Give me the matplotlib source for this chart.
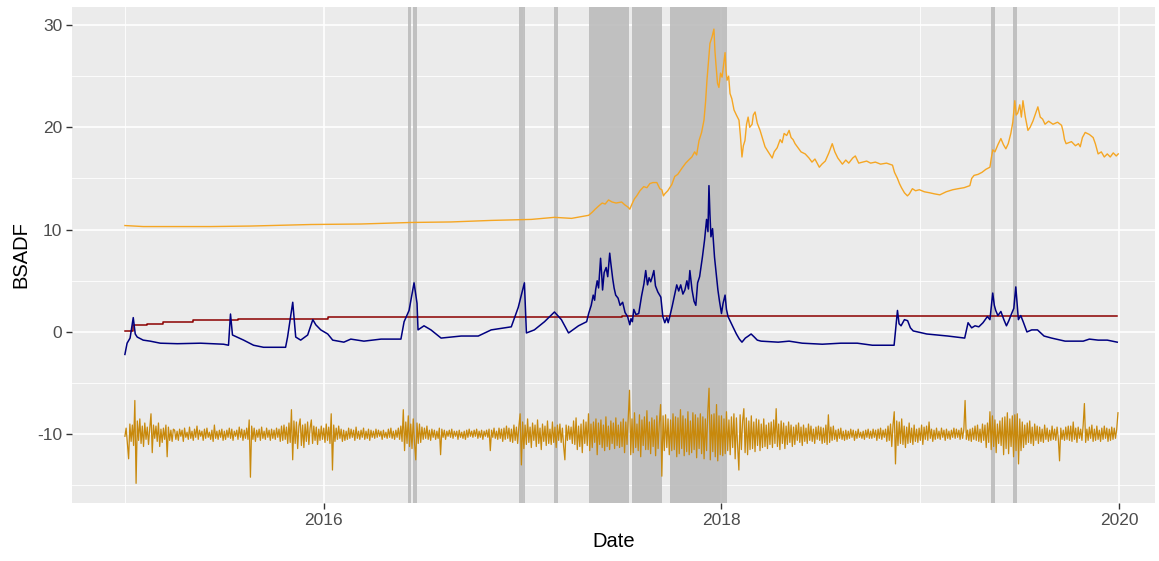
import numpy as np
import matplotlib
matplotlib.use("Agg")
import matplotlib.pyplot as plt
from matplotlib.ticker import FixedLocator

plt.rcParams['font.family'] = ['Liberation Sans', 'DejaVu Sans']

# Scaled price (orange): decimal year, value
price_t = [2015.000, 2015.092, 2015.264, 2015.430, 2015.632, 2015.935, 2016.187,
           2016.439, 2016.640, 2016.842, 2017.044, 2017.160, 2017.246, 2017.332,
           2017.350, 2017.365, 2017.382, 2017.400, 2017.415, 2017.432, 2017.450,
           2017.470, 2017.498, 2017.515, 2017.530, 2017.539, 2017.550, 2017.562,
           2017.574, 2017.590, 2017.609, 2017.625, 2017.640, 2017.655, 2017.675,
           2017.690, 2017.700, 2017.708, 2017.715, 2017.730, 2017.750, 2017.765,
           2017.780, 2017.801, 2017.820, 2017.835, 2017.851, 2017.865, 2017.875,
           2017.887, 2017.900, 2017.912, 2017.920, 2017.927, 2017.935, 2017.942,
           2017.952, 2017.962, 2017.967, 2017.972, 2017.980, 2017.987, 2017.995,
           2018.003, 2018.010, 2018.018, 2018.023, 2018.028, 2018.036, 2018.043,
           2018.052, 2018.063, 2018.075, 2018.088, 2018.095, 2018.103, 2018.110,
           2018.118, 2018.126, 2018.134, 2018.142, 2018.154, 2018.160, 2018.169,
           2018.180, 2018.194, 2018.205, 2018.219, 2018.235, 2018.255, 2018.265,
           2018.280, 2018.295, 2018.305, 2018.315, 2018.328, 2018.340, 2018.350,
           2018.360, 2018.370, 2018.385, 2018.400, 2018.421, 2018.440, 2018.455,
           2018.470, 2018.492, 2018.505, 2018.522, 2018.540, 2018.557, 2018.570,
           2018.585, 2018.608, 2018.625, 2018.640, 2018.660, 2018.673, 2018.690,
           2018.709, 2018.730, 2018.750, 2018.774, 2018.800, 2018.830, 2018.860,
           2018.870, 2018.885, 2018.895, 2018.905, 2018.920, 2018.935, 2018.945,
           2018.960, 2018.976, 2018.995, 2019.020, 2019.047, 2019.070, 2019.098,
           2019.130, 2019.163, 2019.190, 2019.220, 2019.249, 2019.258, 2019.270,
           2019.290, 2019.310, 2019.330, 2019.350, 2019.357, 2019.364, 2019.375,
           2019.390, 2019.405, 2019.418, 2019.430, 2019.442, 2019.455, 2019.465,
           2019.475, 2019.482, 2019.490, 2019.500, 2019.508, 2019.516, 2019.528,
           2019.541, 2019.552, 2019.566, 2019.580, 2019.591, 2019.603, 2019.615,
           2019.627, 2019.645, 2019.667, 2019.690, 2019.710, 2019.718, 2019.725,
           2019.733, 2019.760, 2019.780, 2019.795, 2019.804, 2019.815, 2019.829,
           2019.850, 2019.869, 2019.880, 2019.894, 2019.910, 2019.925, 2019.940,
           2019.955, 2019.970, 2019.985, 2019.995]
price_v = [10.4, 10.3, 10.3, 10.3, 10.35, 10.5, 10.55,
           10.7, 10.75, 10.9, 11.0, 11.2, 11.1, 11.4,
           11.7, 12.0, 12.3, 12.6, 12.5, 12.9, 12.7,
           12.6, 12.7, 12.4, 12.2, 12.0, 12.5, 13.0,
           13.3, 13.8, 14.2, 14.1, 14.5, 14.6, 14.6,
           14.0, 13.9, 13.3, 13.5, 13.8, 14.4, 15.2,
           15.4, 16.0, 16.5, 16.8, 17.1, 17.6, 17.3,
           18.7, 19.5, 20.7, 22.5, 24.6, 26.5, 28.2,
           28.8, 29.6, 27.5, 26.2, 24.3, 23.9, 25.3,
           24.9, 26.0, 27.3, 25.5, 24.6, 25.0, 23.3,
           22.8, 21.7, 21.2, 20.7, 19.2, 17.1, 18.2,
           18.7, 20.3, 21.0, 20.0, 20.3, 21.2, 21.5,
           20.4, 19.7, 19.0, 18.1, 17.6, 17.0, 17.6,
           18.0, 18.8, 18.5, 19.4, 19.2, 19.7, 19.0,
           18.8, 18.4, 18.0, 17.6, 17.4, 17.0, 16.6,
           16.9, 16.1, 16.4, 16.7, 17.5, 18.4, 17.6,
           17.0, 16.4, 16.8, 16.5, 17.0, 17.2, 16.5,
           16.6, 16.7, 16.5, 16.6, 16.4, 16.5, 16.3,
           15.6, 15.0, 14.5, 14.1, 13.6, 13.3, 13.5,
           14.0, 13.8, 13.9, 13.7, 13.6, 13.5, 13.4,
           13.7, 13.9, 14.0, 14.1, 14.3, 15.0, 15.3,
           15.4, 15.6, 15.9, 16.1, 17.0, 17.8, 17.6,
           18.3, 18.9, 18.3, 17.9, 18.4, 19.4, 20.5,
           22.6, 21.2, 21.4, 22.2, 21.0, 22.6, 21.0,
           19.7, 20.0, 20.6, 21.4, 22.0, 21.0, 20.8,
           20.3, 20.6, 20.3, 20.5, 20.2, 19.6, 18.8,
           18.4, 18.6, 18.2, 18.4, 18.1, 19.0, 19.5,
           19.3, 19.0, 18.4, 17.4, 17.6, 17.1, 17.4,
           17.1, 17.5, 17.2, 17.4]

# BSADF statistic (navy)
bsadf_t = [2015.000, 2015.011, 2015.026, 2015.042, 2015.052, 2015.062, 2015.092,
           2015.127, 2015.178, 2015.264, 2015.380, 2015.496, 2015.521, 2015.531,
           2015.541, 2015.597, 2015.647, 2015.697, 2015.808, 2015.818, 2015.844,
           2015.859, 2015.884, 2015.919, 2015.945, 2015.960, 2015.985, 2016.020,
           2016.045, 2016.101, 2016.136, 2016.202, 2016.288, 2016.388, 2016.404,
           2016.429, 2016.454, 2016.469, 2016.474, 2016.504, 2016.539, 2016.590,
           2016.691, 2016.777, 2016.842, 2016.943, 2016.978, 2017.009, 2017.019,
           2017.059, 2017.110, 2017.160, 2017.195, 2017.231, 2017.281, 2017.322,
           2017.332, 2017.345, 2017.355, 2017.362, 2017.367, 2017.375, 2017.382,
           2017.392, 2017.398, 2017.402, 2017.410, 2017.420, 2017.428, 2017.438,
           2017.443, 2017.453, 2017.460, 2017.468, 2017.480, 2017.490, 2017.503,
           2017.515, 2017.528, 2017.539, 2017.545, 2017.552, 2017.559, 2017.570,
           2017.584, 2017.598, 2017.610, 2017.619, 2017.628, 2017.636, 2017.644,
           2017.652, 2017.660, 2017.668, 2017.680, 2017.695, 2017.705, 2017.715,
           2017.725, 2017.732, 2017.740, 2017.752, 2017.765, 2017.775, 2017.785,
           2017.795, 2017.806, 2017.816, 2017.826, 2017.834, 2017.841, 2017.852,
           2017.862, 2017.871, 2017.880, 2017.890, 2017.904, 2017.915, 2017.925,
           2017.932, 2017.937, 2017.942, 2017.947, 2017.955, 2017.960, 2017.965,
           2017.972, 2017.982, 2017.990, 2018.000, 2018.008, 2018.018, 2018.025,
           2018.033, 2018.045, 2018.060, 2018.075, 2018.090, 2018.103, 2018.120,
           2018.135, 2018.149, 2018.165, 2018.180, 2018.199, 2018.285, 2018.340,
           2018.406, 2018.507, 2018.600, 2018.683, 2018.759, 2018.868, 2018.885,
           2018.893, 2018.903, 2018.920, 2018.936, 2018.950, 2018.964, 2019.032,
           2019.138, 2019.223, 2019.240, 2019.258, 2019.275, 2019.294, 2019.315,
           2019.337, 2019.350, 2019.364, 2019.372, 2019.379, 2019.390, 2019.405,
           2019.420, 2019.433, 2019.445, 2019.459, 2019.470, 2019.480, 2019.493,
           2019.505, 2019.519, 2019.536, 2019.560, 2019.589, 2019.622, 2019.660,
           2019.728, 2019.819, 2019.850, 2019.894, 2019.940, 2019.990]
bsadf_v = [-2.2, -1.1, -0.6, 1.4, -0.2, -0.5, -0.8,
           -0.9, -1.1, -1.15, -1.1, -1.2, -1.3, 1.75,
           -0.3, -0.8, -1.3, -1.5, -1.5, -0.5, 2.9,
           -0.5, -0.8, -0.3, 1.2, 0.7, 0.2, -0.2,
           -0.8, -1.0, -0.7, -0.9, -0.7, -0.7, 1.0,
           2.1, 4.8, 2.8, 0.2, 0.6, 0.2, -0.6,
           -0.4, -0.4, 0.2, 0.5, 2.4, 4.8, -0.1,
           0.2, 1.0, 1.95, 1.2, -0.1, 0.6, 1.0,
           1.8, 2.6, 3.6, 3.1, 4.1, 5.0, 4.3,
           7.2, 5.5, 4.1, 5.8, 6.3, 5.4, 7.7,
           6.8, 5.2, 4.3, 3.6, 3.3, 2.6, 2.9,
           1.9, 1.5, 0.7, 1.3, 1.0, 2.2, 1.7,
           1.8, 3.5, 4.7, 6.0, 4.6, 5.3, 4.9,
           5.4, 6.0, 4.5, 3.9, 3.4, 1.5, 0.9,
           1.4, 0.9, 1.5, 2.5, 3.7, 4.6, 4.0,
           4.6, 3.7, 4.1, 5.0, 4.2, 6.0, 4.1,
           3.0, 2.6, 4.8, 5.4, 7.3, 9.0, 11.0,
           9.8, 14.3, 11.5, 9.3, 10.1, 8.7, 7.3,
           6.0, 4.1, 3.0, 1.8, 2.8, 3.6, 2.2,
           1.5, 1.0, 0.4, -0.2, -0.7, -1.0, -0.6,
           -0.4, -0.2, -0.5, -0.8, -0.9, -1.0, -0.9,
           -1.1, -1.2, -1.1, -1.1, -1.3, -1.3, 2.1,
           0.8, 0.6, 1.2, 1.1, 0.4, 0.1, -0.2,
           -0.4, -0.6, 0.9, 0.4, 0.6, 0.5, 0.9,
           1.5, 1.2, 3.8, 2.6, 2.1, 1.6, 2.0,
           1.2, 0.6, 1.1, 1.8, 2.3, 4.4, 1.2,
           1.6, 0.9, 0.0, 0.2, 0.2, -0.4, -0.6,
           -0.9, -0.9, -0.7, -0.8, -0.8, -1.0]

# critical value sequence (dark red)
cv_t = [2015.000, 2015.040, 2015.110, 2015.190, 2015.340, 2015.570, 2016.020,
        2016.500, 2017.500, 2018.500, 2019.990]
cv_v = [0.1, 0.7, 0.8, 1.0, 1.15, 1.3, 1.45, 1.5, 1.52, 1.55, 1.55]

# returns sampled every 1/160 year from 2015.0 (one row per quarter),
# deviation around the -10 offset used in the chart
ret_dev = [
    -0.2, 0.6, -0.9, -2.4, 1.0, -0.7, 0.9, -1.1, 3.3, -4.8, 1.3, -0.6, 1.5, -0.9, 0.8, -1.2, 1.1, -0.5, 0.7, -1.0,
    0.6, 2.0, -1.8, 0.9, -0.4, 0.8, -0.7, 1.1, -1.2, 0.5, -0.8, 0.6, -0.5, 0.9, -2.2, 0.7, -0.6, 0.4, -0.7, 0.5,
    0.4, -0.5, 0.3, -0.6, 0.5, -0.2, 0.4, -0.7, 0.6, -0.3, 0.2, -0.5, 0.7, -0.4, 0.3, -0.6, 0.5, -0.3, 0.8, -0.5,
    0.4, -0.2, 0.3, -0.6, 0.5, -0.4, 0.6, -0.3, 0.2, -0.5, 0.4, -0.7, 0.9, -0.4, 0.3, -0.5, 0.4, -0.3, 0.5, -0.6,
    0.3, -0.5, 0.4, -0.3, 0.6, -0.4, 0.5, -0.6, 0.3, -0.2, 0.4, -0.5, 0.7, -0.3, 0.5, -0.6, 0.4, -0.4, 0.6, -0.5,
    1.4, -4.2, 0.8, -0.5, 0.6, -0.7, 0.4, -0.3, 0.5, -0.6, 0.7, -0.4, 0.3, -0.5, 0.6, -0.3, 0.4, -0.6, 0.5, -0.4,
    0.4, -0.5, 0.6, -0.3, 0.5, -0.7, 0.8, -0.6, 0.9, -0.5, 0.7, -0.9, 1.1, -0.8, 2.4, -2.5, 1.3, -0.9, 1.2, -1.4,
    0.8, 1.5, -1.1, 0.9, -1.3, 1.0, -0.7, 1.2, -1.0, 0.6, 1.4, -0.9, 0.8, -0.6, 0.7, -1.0, 0.5, -0.6, 0.8, -0.5,
    0.6, -0.8, 1.0, -0.6, 0.7, -0.9, 2.0, -3.5, 0.9, -0.7, 0.6, -0.5, 0.8, -0.4, 0.5, -0.7, 0.4, -0.6, 0.3, -0.5,
    0.6, -0.4, 0.5, -0.3, 0.4, -0.6, 0.7, -0.4, 0.3, -0.5, 0.4, -0.3, 0.6, -0.5, 0.3, -0.4, 0.5, -0.6, 0.4, -0.3,
    0.3, -0.4, 0.5, -0.3, 0.4, -0.2, 0.3, -0.5, 0.4, -0.3, 0.2, -0.4, 0.5, -0.3, 0.6, -0.4, 0.3, -0.5, 0.4, -0.3,
    0.6, -0.5, 0.8, -0.7, 2.4, -1.6, 1.2, -0.9, 1.8, -1.2, 1.0, -1.4, 1.5, -0.8, -2.5, 1.1, -0.9, 1.0, -0.8, 0.7,
    -0.5, 0.6, -0.4, 0.8, -0.5, 0.4, -0.6, 0.5, -0.3, 0.4, -0.5, 0.3, -0.4, 0.6, -2.0, 0.5, -0.3, 0.4, -0.5, 0.3,
    -0.2, 0.4, -0.3, 0.5, -0.4, 0.3, -0.2, 0.3, -0.5, 0.4, -0.3, 0.2, -0.4, 0.3, -0.5, 0.4, -0.3, 0.5, -0.2, 0.3,
    -0.3, 0.4, -0.2, 0.5, -0.4, 0.3, -0.3, 0.4, -0.5, 0.3, -0.2, 0.4, -0.3, 0.5, -1.6, 0.4, -0.3, 0.6, -0.4, 0.3,
    -0.5, 0.6, -0.4, 0.5, -0.7, 0.6, -0.5, 0.8, -0.4, 0.6, -0.7, 0.5, -0.8, 0.9, -0.6, 0.7, -0.9, 0.8, 2.0, -3.0,
    1.2, -1.4, 0.9, -1.0, 1.5, -0.8, 0.7, -1.3, 1.1, -0.6, 0.9, -1.2, 1.4, -0.9, 0.6, -1.5, 1.0, -0.7, 0.8, -1.1,
    1.3, -0.9, 0.5, -1.0, 1.2, -0.8, 0.7, -1.3, 0.9, -0.6, 1.0, -0.8, 0.6, -1.2, -2.5, 0.9, -0.6, 0.8, -0.5, 0.7,
    -0.9, 1.3, -1.0, 1.6, -1.5, 0.8, -1.2, 1.0, -1.8, 1.4, -0.9, 1.2, -1.1, 2.0, -1.6, 1.0, -1.3, 1.2, -0.8, 1.5,
    -2.0, 1.1, -1.0, 1.4, -1.3, 0.9, -1.6, 1.7, -1.2, 0.8, -1.5, 1.3, -0.9, 1.1, -1.4, 1.6, -1.1, 0.9, -1.3, 1.2,
    -1.2, 1.5, -1.8, 1.2, -1.0, 1.6, 4.3, -2.0, 1.5, -1.8, 2.1, -1.3, 1.0, -1.6, 1.9, -2.2, 1.4, -1.1, 1.7, -1.5,
    2.3, -1.5, 1.2, -1.9, 1.6, -1.2, 1.4, -2.1, 1.8, -1.4, 1.1, 2.9, -4.1, 1.8, -1.6, 1.9, -1.3, 1.5, -2.0, 1.4,
    -1.6, 2.0, -1.5, 1.7, -2.2, 1.6, -1.9, 2.4, -1.4, 1.8, -2.1, 1.5, -1.7, 2.2, -2.0, 1.3, -1.8, 2.1, -1.5, 1.9,
    -2.3, 1.6, -1.4, 2.0, -1.9, 1.7, -2.4, 1.5, -1.6, 2.2, 4.5, -2.5, 1.9, -1.7, 2.0, -2.2, 2.9, -2.6, 1.8, -2.0,
    1.8, -2.1, 1.5, -1.9, 2.2, -1.6, 1.4, -2.0, 1.7, -1.3, 2.0, -2.4, 1.6, -1.2, -3.5, 1.9, -1.5, 1.3, 2.5, -1.8,
    1.6, -2.0, 1.3, -1.5, 1.8, -1.4, 1.2, -1.7, 1.5, -1.1, 1.4, -1.6, 1.0, -1.3, 1.5, -1.2, 0.9, -1.4, 1.1, -1.0,
    1.2, -1.3, 1.4, -0.9, 2.5, -1.2, 1.0, -1.5, 1.3, -0.9, 1.1, -1.4, 0.8, -1.0, 1.2, -0.8, 0.9, -1.2, 0.7, -1.0,
    0.9, -0.6, 1.1, -0.8, 0.7, -1.1, 0.9, -0.7, 0.6, -0.9, 1.0, -0.6, 0.8, -0.7, 0.5, -0.9, 0.7, -0.5, 0.8, -0.6,
    0.7, -0.9, 0.6, -0.8, 0.9, -1.0, 1.9, -0.8, 0.7, -0.6, 0.8, -0.5, 0.4, -0.7, 0.5, -0.4, 0.6, -0.5, 0.3, -0.6,
    0.4, -0.5, 0.3, -0.4, 0.5, -0.3, 0.4, -0.6, 0.3, -0.4, 0.5, -0.3, 0.2, -0.4, 0.3, -0.5, 0.4, -0.3, 0.5, -0.4,
    0.3, -0.4, 0.5, -0.3, 0.4, -0.6, 0.5, -0.4, 0.6, -0.5, 0.4, -0.3, 0.5, -0.7, 0.8, -0.6, 1.0, -1.2, 0.9, 2.2,
    -2.9, 1.3, -1.1, 1.2, -0.9, 1.5, -1.0, 0.8, -1.3, 0.7, -0.9, 1.1, -0.8, 0.6, -1.0, 0.9, -0.7, 0.5, -0.8, 0.6,
    -0.6, 0.9, -1.0, 0.7, -0.5, 0.8, -0.6, 1.2, -0.4, 0.5, -0.7, 0.4, -0.5, 0.6, -0.4, 0.3, -0.5, 0.6, -0.3, 0.4,
    -0.6, 0.5, -0.4, 0.3, -0.5, 0.4, -0.3, 0.6, -0.4, 0.5, -0.3, 0.4, -0.5, 0.6, -0.4, 0.5, 3.3, -0.5, 0.4, -0.6,
    0.5, -0.7, 0.6, -0.5, 0.8, -0.6, 0.9, -0.7, 0.5, -0.8, 1.0, -0.6, 0.9, -1.3, 1.1, -0.8, 2.2, -1.5, 1.8, -1.2,
    1.4, -1.8, 1.0, -0.9, 1.3, -1.1, 1.6, -2.0, 1.7, -1.4, 2.1, -1.9, 1.5, -1.2, 1.8, -2.2, 1.9, -1.6, 2.0, -2.9,
    1.5, -1.6, 1.2, -1.3, 0.9, -1.0, 1.1, -0.8, 1.3, -0.9, 0.7, -1.1, 1.0, -0.6, 0.8, -0.9, 0.7, -0.7, 0.5, -0.8,
    0.9, -0.5, 0.6, -0.7, 0.4, -0.6, 0.8, -0.5, 0.5, -0.6, 0.7, -0.4, -2.6, 0.6, -0.5, 0.4, -0.6, 0.7, -0.5, 0.8,
    -0.6, 0.8, -0.7, 1.2, -0.5, 0.6, -0.8, 0.7, -0.4, 0.5, -0.6, 0.9, 3.0, -0.8, 0.5, -0.6, 0.7, -0.4, 0.9, -0.7,
    0.5, -0.6, 0.8, -0.5, 0.4, -0.7, 0.6, -0.5, 0.8, -0.4, 0.6, -0.7, 0.5, -0.6, 0.7, -0.5, 0.6, -0.4, 0.5, 2.1,
]
ret_offset = -10

# bubble periods (shaded)
band_start = [2016.424, 2016.449, 2016.984, 2017.160, 2017.332, 2017.549, 2017.740, 2019.354, 2019.465]
band_end = [2016.439, 2016.469, 2017.014, 2017.180, 2017.533, 2017.700, 2018.028, 2019.374, 2019.485]

xticks = [2016, 2018, 2020]
xminor = [2015, 2017, 2019]
yticks = [-10, 0, 10, 20, 30]
yminor = [-15, -5, 5, 15, 25]

fig = plt.figure(figsize=(11.59, 5.61), dpi=100)
ax = fig.add_axes([72 / 1159, 1 - 503 / 561, (1155 - 72) / 1159, (503 - 7) / 561])
ax.set_facecolor('#EBEBEB')
for s in ax.spines.values():
    s.set_visible(False)

ax.xaxis.set_major_locator(FixedLocator(xticks))
ax.xaxis.set_minor_locator(FixedLocator(xminor))
ax.yaxis.set_major_locator(FixedLocator(yticks))
ax.yaxis.set_minor_locator(FixedLocator(yminor))
ax.grid(which='major', color='white', linewidth=1.2)
ax.grid(which='minor', color='white', linewidth=0.6)
ax.set_axisbelow(True)

for a, b in zip(band_start, band_end):
    ax.axvspan(a, b, color='#BDBDBD', alpha=0.92, linewidth=0, zorder=1)

ret_t = 2015 + np.arange(len(ret_dev)) / 160
ax.plot(ret_t, np.array(ret_dev) + ret_offset, color='#C8890C', linewidth=0.9, zorder=2)
ax.plot(price_t, price_v, color='#F5A623', linewidth=1.0, zorder=3)
ax.plot(cv_t, cv_v, color='#8B0000', linewidth=1.1, drawstyle='steps-post', zorder=3)
ax.plot(bsadf_t, bsadf_v, color='#000080', linewidth=1.1, zorder=4)

ax.set_xlim(2014.734, 2020.18)
ax.set_ylim(-16.72, 31.76)
ax.set_xticklabels([str(t) for t in xticks])
ax.set_yticklabels([str(t) for t in yticks])
ax.tick_params(which='major', length=4, width=1, color='#333333',
               labelcolor='#4D4D4D', labelsize=12.5, pad=3)
ax.tick_params(which='minor', length=0)

ax.set_xlabel('Date', fontsize=14.5, color='black', labelpad=3)
ax.set_ylabel('BSADF', fontsize=14.5, color='black', labelpad=5)

fig.savefig('out.png', dpi=100)
